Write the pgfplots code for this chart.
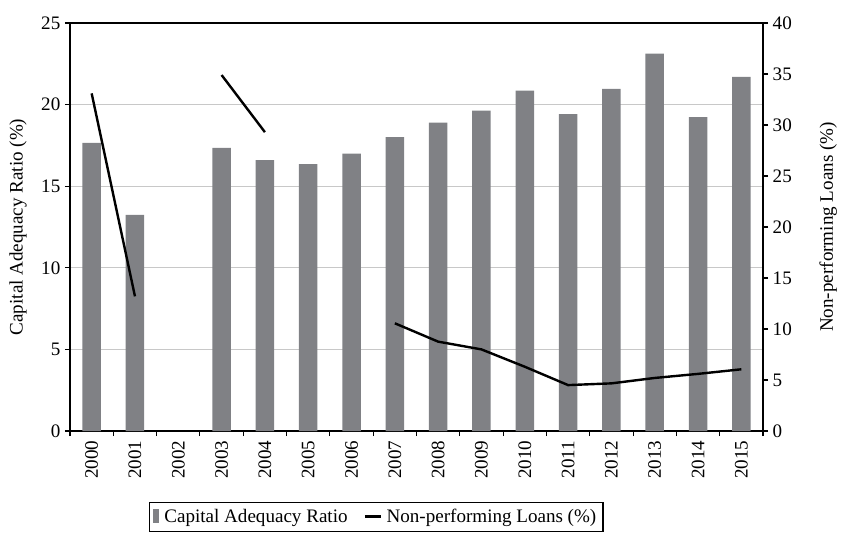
\documentclass[border=0pt]{standalone}
\usepackage{fontspec}
\setmainfont{Liberation Serif}
\usepackage{pgfplots}
\pgfplotsset{compat=1.18}
\definecolor{bargray}{RGB}{128,129,133}
\definecolor{gridgray}{RGB}{200,200,200}
\begin{document}
\begin{tikzpicture}[font=\fontsize{14.3}{17}\selectfont]
\path[use as bounding box] (-52.5pt,-75.75pt) rectangle (578.25pt,323.25pt);
\begin{axis}[
  at={(0,0)}, anchor=south west,
  scale only axis, width=519.75pt, height=306pt,
  xmin=-0.5, xmax=15.5, ymin=0, ymax=25,
  xtick={0,...,15},
  xticklabels={2000,2001,2002,2003,2004,2005,2006,2007,2008,2009,2010,2011,2012,2013,2014,2015},
  minor xtick={-0.5,0.5,...,15.5},
  major x tick style={draw=none},
  minor x tick style={black, line width=0.8pt},
  minor tick length=3.75pt,
  major tick length=3.75pt,
  tick align=outside,
  xtick pos=bottom, ytick pos=left,
  ytick={0,5,...,25},
  ymajorgrids, grid style={gridgray, line width=0.8pt},
  axis line style={black, line width=0.8pt},
  ytick style={black, line width=0.8pt},
  /pgf/number format/assume math mode=true,
  xticklabel style={rotate=90, anchor=east},
  ylabel={Capital Adequacy Ratio (\%)},
  ylabel style={at={(axis description cs:-0.075,0.5)}, anchor=center},
  legend style={at={(0.4416,-0.21)}, anchor=center, draw=black, line width=0.8pt,
    legend columns=2, inner xsep=3pt, inner ysep=3pt,
    /tikz/every even column/.append style={column sep=10pt}},
]
\addplot[ybar, bar width=13.9pt, fill=bargray, draw=none,
  legend image code/.code={\fill[bargray] (0pt,-5pt) rectangle (4.5pt,6pt); \path (6.5pt,0pt);}]
  coordinates {(0,17.65)(1,13.25)(3,17.35)(4,16.6)(5,16.35)(6,17.0)(7,18.0)(8,18.9)(9,19.63)(10,20.85)(11,19.42)(12,20.96)(13,23.12)(14,19.24)(15,21.7)};
\addlegendentry{Capital Adequacy Ratio}
\addlegendimage{legend image code/.code={\draw[black, line width=1.8pt] (0pt,0pt) -- (12pt,0pt); \path (14pt,0pt);}}
\addlegendentry{Non-performing Loans (\%)}
\end{axis}
\begin{axis}[
  at={(0,0)}, anchor=south west,
  scale only axis, width=519.75pt, height=306pt,
  xmin=-0.5, xmax=15.5, ymin=0, ymax=40,
  axis x line=none, axis y line*=right,
  ytick={0,5,...,40},
  tick align=outside, major tick length=3.75pt,
  axis line style={black, line width=0.8pt},
  ytick style={black, line width=0.8pt},
  /pgf/number format/assume math mode=true,
  ylabel={Non-performing Loans (\%)},
  ylabel style={at={(axis description cs:1.094,0.5)}, anchor=center},
  unbounded coords=jump,
]
\addplot[black, line width=1.8pt] coordinates {
(0,33.1)(1,13.2)(2,nan)(3,34.9)(4,29.3)(5,nan)(6,nan)(7,10.56)(8,8.76)(9,8.0)(10,6.3)(11,4.5)(12,4.67)(13,5.2)(14,5.6)(15,6.05)};
\end{axis}
\end{tikzpicture}
\end{document}
